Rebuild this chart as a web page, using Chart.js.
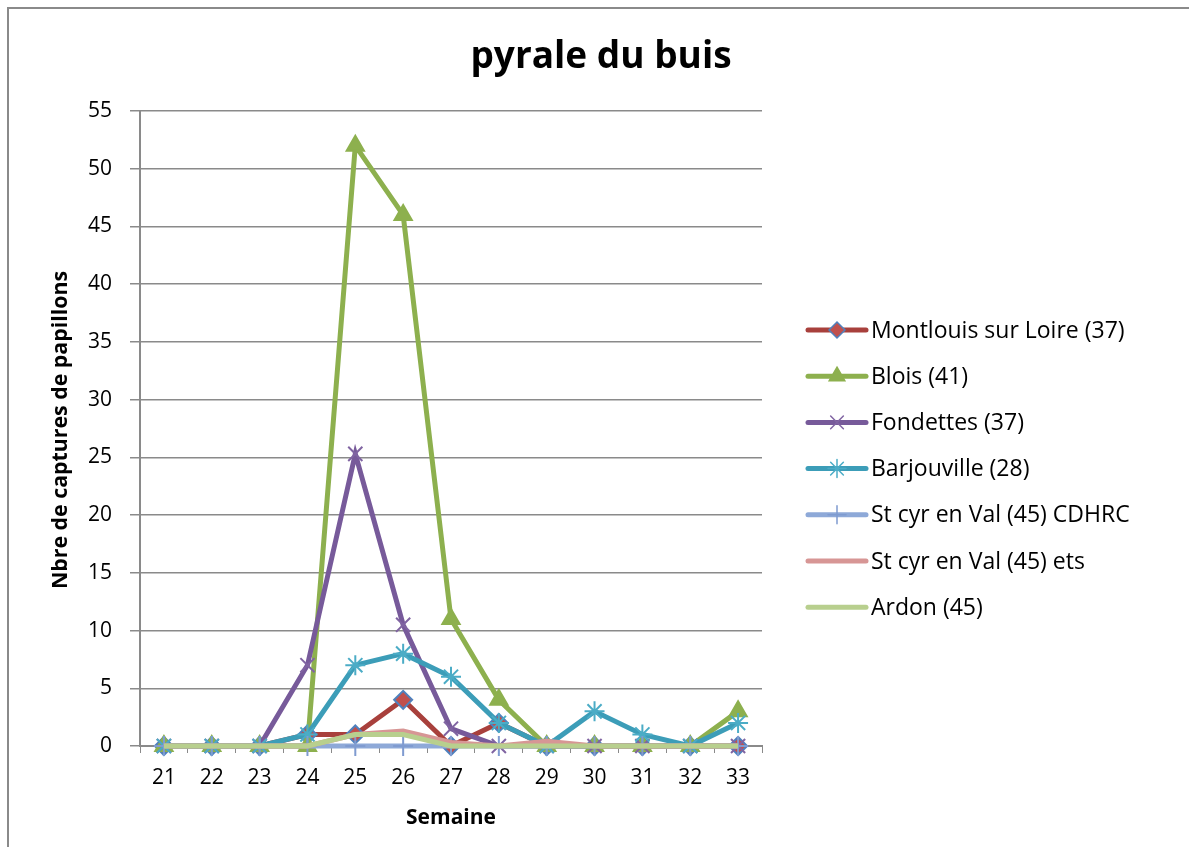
<!DOCTYPE html>
<html>
<head>
<meta charset="utf-8">
<script src="https://cdn.jsdelivr.net/npm/chart.js@4/dist/chart.umd.min.js"></script>
<style>
  html, body { margin: 0; padding: 0; background: #fff; overflow: hidden; }
  #frame {
    position: absolute; left: 7px; top: 7px;
    width: 1182px; height: 840px;
    border-left: 2px solid #8a8a8a; border-top: 2px solid #8a8a8a;
  }
  canvas { display: block; }
</style>
</head>
<body>
<div id="frame"><canvas id="chart" width="1180" height="838"></canvas></div>
<script>
// Données
const semaines = ['21', '22', '23', '24', '25', '26', '27', '28', '29', '30', '31', '32', '33'];

const montlouis   = [0, 0, 0, 1, 1, 4, 0, 2, 0, 0, 0, 0, 0];
const blois       = [0, 0, 0, 0, 52, 46, 11, 4, 0, 0, 0, 0, 3];
const fondettes   = [0, 0, 0, 7, 25.3, 10.5, 1.5, 0, 0, 0, 0, 0, 0];
const barjouville = [0, 0, 0, 1, 7, 8, 6, 2, 0, 3, 1, 0, 2];
const stcyrCdhrc  = [0, 0, 0, 0, 0, 0, 0, 0, 0, 0, 0, 0, 0];
const stcyrEts    = [0, 0, 0, 0, 1, 1.3, 0.3, 0, 0.4, 0, 0, 0, 0];
const ardon       = [0, 0, 0, 0, 1, 1, 0, 0, 0, 0, 0, 0, 0];

const titre = 'pyrale du buis';
const titreY = 'Nbre de captures de papillons';

const FONT = '"Open Sans", Lato, sans-serif';

function serie(label, data, line, style, fill, border, radius, order) {
    return {
        label: label,
        data: data,
        borderColor: line,
        borderWidth: 5,
        pointStyle: style,
        pointRadius: radius,
        pointHoverRadius: radius,
        pointBackgroundColor: fill,
        pointBorderColor: border,
        pointBorderWidth: 2,
        tension: 0,
        fill: false,
        clip: false,
        order: order
    };
}

const datasets = [
    serie('Montlouis sur Loire (37)', montlouis, '#A8403C', 'rectRot', '#C0504D', '#4F81BD', 9, 7),
    serie('Blois (41)', blois, '#8DB04E', 'triangle', '#8DB04E', '#8DB04E', 10, 6),
    serie('Fondettes (37)', fondettes, '#775A9A', 'crossRot', '#8064A2', '#8064A2', 10, 5),
    serie('Barjouville (28)', barjouville, '#3C9DB8', 'star', '#4BACC6', '#4BACC6', 10, 4),
    serie('St cyr en Val (45) CDHRC', stcyrCdhrc, '#8EA9D8', 'cross', '#7F9BD0', '#7F9BD0', 10, 3),
    serie('St cyr en Val (45) ets', stcyrEts, '#D79695', 'circle', '#D79695', '#D79695', 0, 2),
    serie('Ardon (45)', ardon, '#B8CF8E', 'circle', '#B8CF8E', '#B8CF8E', 0, 1)
];

// Titre, titre de l'axe Y (étroit) et légende dessinés à la main
const decorPlugin = {
    id: 'decor',
    afterDraw(chart) {
        const ctx = chart.ctx;
        ctx.save();

        // titre
        ctx.fillStyle = '#000';
        ctx.font = 'bold 37px ' + FONT;
        ctx.textAlign = 'center';
        ctx.textBaseline = 'middle';
        ctx.fillText(titre, 592, 48);

        // titre axe Y, compressé en largeur
        ctx.font = 'bold 21px ' + FONT;
        const w = ctx.measureText(titreY).width;
        ctx.save();
        ctx.translate(52, 421);
        ctx.rotate(-Math.PI / 2);
        ctx.scale(318 / w, 1);
        ctx.fillText(titreY, 0, 0);
        ctx.restore();

        // légende
        chart.data.datasets.forEach((ds, i) => {
            const y = 321 + i * 46.2;
            ctx.strokeStyle = ds.borderColor;
            ctx.lineWidth = 5;
            ctx.lineCap = 'round';
            ctx.beginPath();
            ctx.moveTo(799, y);
            ctx.lineTo(857, y);
            ctx.stroke();
            if (ds.pointRadius > 0) {
                ctx.fillStyle = ds.pointBackgroundColor;
                ctx.strokeStyle = ds.pointBorderColor;
                ctx.lineWidth = 1.5;
                Chart.helpers.drawPoint(ctx, {
                    pointStyle: ds.pointStyle,
                    radius: ds.pointRadius - 1,
                    borderWidth: 1.5,
                    rotation: 0
                }, 828, y);
            }
            ctx.fillStyle = '#000';
            ctx.font = '23px ' + FONT;
            ctx.textBaseline = 'middle';
            ctx.textAlign = 'left';
            ctx.fillText(ds.label, 862, y + 1);
        });
        ctx.restore();
    }
};

new Chart(document.getElementById('chart').getContext('2d'), {
    type: 'line',
    data: { labels: semaines, datasets: datasets },
    plugins: [decorPlugin],
    options: {
        responsive: false,
        animation: false,
        layout: { padding: { left: 0, right: 427, top: 102, bottom: 0 } },
        plugins: {
            legend: { display: false },
            tooltip: { enabled: false },
            title: { display: false }
        },
        scales: {
            x: {
                offset: true,
                grid: {
                    offset: true,
                    drawOnChartArea: false,
                    drawTicks: true,
                    tickLength: 7,
                    color: '#8a8a8a'
                },
                border: { color: '#8a8a8a', width: 2 },
                ticks: {
                    color: '#000',
                    font: { family: FONT, size: 21 },
                    padding: 12,
                    maxRotation: 0
                },
                title: {
                    display: true,
                    text: 'Semaine',
                    color: '#000',
                    font: { family: FONT, size: 21, weight: 'bold' },
                    padding: { top: 4, bottom: 16 }
                },
                afterFit(scale) { scale.height = 101; }
            },
            y: {
                min: 0,
                max: 55,
                ticks: {
                    stepSize: 5,
                    color: '#000',
                    font: { family: FONT, size: 21 },
                    padding: 18
                },
                grid: {
                    color: '#8a8a8a',
                    lineWidth: 1.5,
                    drawTicks: true,
                    tickLength: 10
                },
                border: { color: '#8a8a8a', width: 2 },
                afterFit(scale) { scale.width = 131; }
            }
        }
    }
});
</script>
</body>
</html>
